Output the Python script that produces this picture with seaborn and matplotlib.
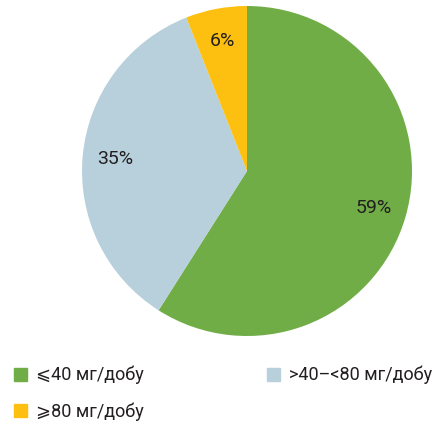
import matplotlib
matplotlib.use('Agg')
import matplotlib.pyplot as plt
import matplotlib.patches as mpatches
import seaborn as sns

sns.set_theme(style='white')
plt.rcParams['font.family'] = ['Roboto', 'DejaVu Sans']

# данные
categories = ['⩽40 мг/добу', '>40–<80 мг/добу', '⩾80 мг/добу']
values = [59, 35, 6]
colors = ['#70AD47', '#B8D0DC', '#FDC010']

fig = plt.figure(figsize=(4.42, 4.21), dpi=100)
ax = fig.add_axes([82 / 442, 85 / 421, 330 / 442, 330 / 421])

wedges, texts, autotexts = ax.pie(
    values, colors=colors, startangle=90, counterclock=False,
    autopct=lambda p: f'{p:.0f}%', pctdistance=0.8,
    wedgeprops=dict(linewidth=0),
    textprops=dict(fontsize=14, color='#231F20'))
ax.set_xlim(-1, 1)
ax.set_ylim(-1, 1)
ax.set_aspect('equal')

handles = [mpatches.Patch(color=c) for c in colors]
kw = dict(frameon=False, fontsize=13, handlelength=0.7, handleheight=0.7,
          handletextpad=0.5, labelspacing=1.0, labelcolor='#231F20',
          borderaxespad=0, borderpad=0)
# колонка 1: ⩽40 и ⩾80
leg1 = fig.legend([handles[0], handles[2]], [categories[0], categories[2]],
                  loc='upper left', bbox_to_anchor=(14 / 442, 1 - 366 / 421), **kw)
# колонка 2: >40–<80
leg2 = fig.legend([handles[1]], [categories[1]],
                  loc='upper left', bbox_to_anchor=(267 / 442, 1 - 366 / 421), **kw)

fig.savefig('out.png', dpi=100)
